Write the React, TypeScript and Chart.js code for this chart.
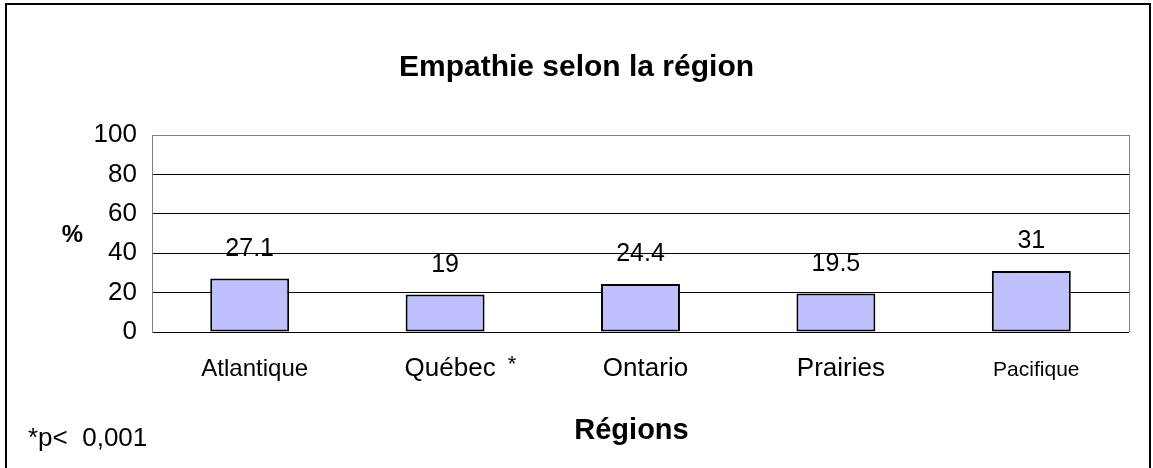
import React, { useEffect, useRef } from "react";
import { Chart, registerables } from "chart.js";

Chart.register(...registerables);

const title = "Empathie selon la région";
const categories = ["Atlantique", "Québec", "Ontario", "Prairies", "Pacifique"];
const values = [27.1, 19, 24.4, 19.5, 31];
const markedCategories = ["Québec"];
const yAxisTitle = "%";
const xAxisTitle = "Régions";
const footnote = "*p<  0,001";

const FONT = '"Liberation Sans", Arial, Helvetica, sans-serif';
const labelFontSizes = [24, 26, 26, 26, 21];

export default function App() {
  const ref = useRef<HTMLCanvasElement | null>(null);

  useEffect(() => {
    document.body.style.margin = "0";
    const canvas = ref.current;
    if (!canvas) return;

    const decor = {
      id: "decor",
      afterDraw(chart: any) {
        const ctx = chart.ctx;
        const area = chart.chartArea;
        const xs = chart.scales.x;
        ctx.save();
        // outer frame
        ctx.strokeStyle = "#000";
        ctx.lineWidth = 2;
        ctx.strokeRect(6, 4, 1144, 480);
        // right edge of plot area
        ctx.strokeStyle = "#808080";
        ctx.lineWidth = 1;
        ctx.beginPath();
        ctx.moveTo(Math.round(area.right) + 0.5, area.top);
        ctx.lineTo(Math.round(area.right) + 0.5, area.bottom);
        ctx.stroke();

        ctx.fillStyle = "#000";
        // title
        ctx.font = `bold 30px ${FONT}`;
        ctx.textAlign = "center";
        ctx.textBaseline = "alphabetic";
        ctx.fillText(title, 576.5, 76);
        // y axis title
        ctx.font = `bold 24px ${FONT}`;
        ctx.fillText(yAxisTitle, 72.5, 242);
        // x axis title
        ctx.font = `bold 29px ${FONT}`;
        ctx.fillText(xAxisTitle, 631.5, 439);
        // footnote
        ctx.font = `26px ${FONT}`;
        ctx.textAlign = "left";
        ctx.fillText(footnote, 28, 446);

        // category labels
        categories.forEach((c, i) => {
          const x = xs.getPixelForValue(i) + 5;
          ctx.font = `${labelFontSizes[i]}px ${FONT}`;
          ctx.textAlign = "center";
          ctx.fillText(c, x, 376);
          if (markedCategories.includes(c)) {
            const w = ctx.measureText(c).width;
            ctx.font = `22px ${FONT}`;
            ctx.textAlign = "left";
            ctx.fillText("*", x + w / 2 + 12, 371);
          }
        });

        // value labels
        const meta = chart.getDatasetMeta(0);
        ctx.font = `25px ${FONT}`;
        ctx.textAlign = "center";
        meta.data.forEach((bar: any, i: number) => {
          ctx.fillText(String(values[i]), bar.x, bar.y - 23);
        });
        ctx.restore();
      },
    };

    const chart = new Chart(canvas, {
      type: "bar",
      data: {
        labels: categories,
        datasets: [
          {
            data: values,
            backgroundColor: "#C0C0FF",
            borderColor: "#000",
            borderWidth: 2,
            borderSkipped: false,
            barPercentage: 0.404,
            categoryPercentage: 1,
          },
        ],
      },
      options: {
        responsive: false,
        animation: false,
        devicePixelRatio: 1,
        layout: { padding: { top: 135, right: 24, bottom: 0, left: 0 } },
        plugins: {
          legend: { display: false },
          title: { display: false },
          tooltip: { enabled: false },
        },
        scales: {
          x: {
            ticks: { display: false },
            grid: { display: false },
            border: { display: false },
            afterFit(scale: any) {
              scale.height = 136;
            },
          },
          y: {
            min: 0,
            max: 100,
            ticks: {
              stepSize: 20,
              padding: 15,
              color: "#000",
              font: { family: FONT, size: 26 },
            },
            grid: {
              drawTicks: false,
              color: (c: any) =>
                c.tick && c.tick.value === 100 ? "#808080" : "#000",
              lineWidth: 1,
            },
            border: { display: true, color: "#808080", width: 1 },
            afterFit(scale: any) {
              scale.width = 152;
            },
          },
        },
      },
      plugins: [decor],
    });

    return () => chart.destroy();
  }, []);

  return (
    <div style={{ width: 1153, height: 468, background: "#fff" }}>
      <canvas ref={ref} width={1153} height={468} style={{ display: "block" }} />
    </div>
  );
}
